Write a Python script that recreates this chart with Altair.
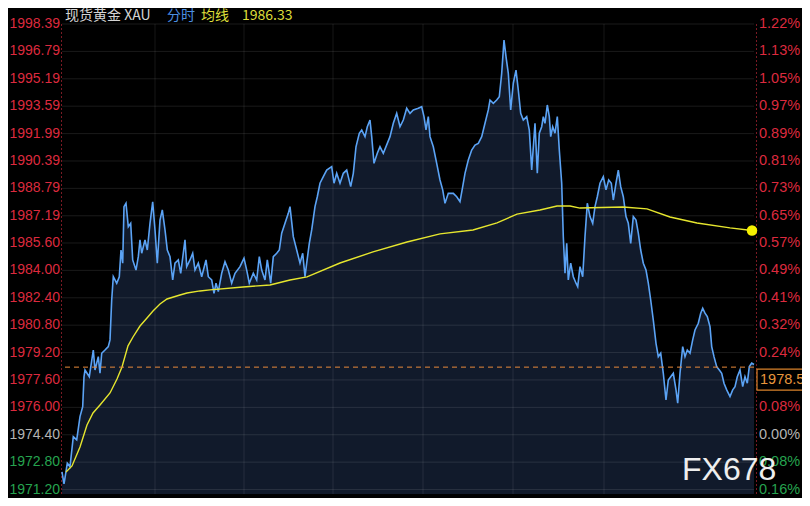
import altair as alt
import pandas as pd

# ---------------- data ----------------
price_t = [0, 2, 3, 5.3, 8, 11.3, 14.7, 18, 20.7, 22, 23, 27.3, 31.3, 33, 36.3, 38, 39.7, 43, 46.3, 48,
           49.7, 51.3, 54.7, 57.3, 59, 60.7, 62, 64, 66.3, 68.7, 70.7, 74, 76.3, 78, 79.7, 83, 85.3, 88, 90.7, 93,
           95.3, 98, 100.3, 103, 105.3, 108, 110.7, 113, 116.3, 118.7, 123, 124.7, 128, 130.7, 133, 136.3, 139.7, 144, 146.3, 149.7,
           152, 154, 156.3, 159.7, 163, 166.3, 169.7, 173, 178, 182, 184.7, 187.3, 191.3, 194.7, 197.3, 199.7, 203, 205.3, 208.7, 211.3,
           214.7, 217.3, 219.7, 223, 226.3, 228, 231.3, 234.7, 238, 240.7, 243, 244.7, 247.3, 249.7, 253, 255.3, 258, 261.3, 264.7, 269.7,
           272, 274.7, 278, 281.3, 284.7, 288.7, 291.3, 294, 297.3, 299.7, 303, 305.3, 308, 309.7, 312, 315.3, 318, 321.3, 325.3, 328,
           331.3, 334.7, 338, 341.3, 344.7, 348, 351.3, 356.3, 359.7, 362, 364, 366.3, 368, 371.3, 374.7, 378, 380.7, 383, 386.3, 391.3,
           394.7, 398, 400.7, 403, 406.3, 409.7, 413, 416.3, 419.7, 423, 426.3, 428, 431.3, 434.7, 437.3, 439.7, 442, 444, 446.3, 448.7,
           451.3, 454, 456.3, 458.7, 461.3, 464.7, 467.3, 469.7, 473, 475.3, 477.3, 479.7, 481.3, 483, 485.3, 487.3, 488.7, 490.7, 493, 495.3,
           497.3, 499.7, 501.3, 503, 504.7, 506.3, 508.7, 511.3, 514, 515.7, 518, 520.7, 523, 525.3, 528, 530.7, 533, 535.3, 538, 541.3,
           544, 546.7, 549.3, 551.3, 554, 556.3, 558.7, 561.3, 564, 566.3, 568.7, 571.3, 574, 576.3, 578.7, 581.3, 584, 586.3, 588.7, 591.3,
           594, 596.3, 598.7, 601.3, 604, 606.3, 608.7, 611.3, 614, 615.7, 618, 620.7, 623, 625.3, 628, 630.7, 633, 636.3, 638.7, 640.7,
           643, 645.3, 648, 649.7, 652, 654.7, 657.3, 659.7, 662, 664.7, 668, 670.7, 673, 675.3, 678, 680.7, 683, 685.3, 687.3, 689.7, 692]
price = [1972.23, 1971.53, 1971.88, 1972.74, 1972.54, 1974.29, 1974.10, 1975.46, 1976.04, 1977.79, 1978.18, 1977.79, 1979.35, 1978.18, 1978.96, 1977.99, 1979.16, 1979.35, 1979.55, 1979.94,
         1982.27, 1983.63, 1983.25, 1983.63, 1985.19, 1984.42, 1987.72, 1987.92, 1986.55, 1986.75, 1984.61, 1984.02, 1984.80, 1985.78, 1985.00, 1985.78, 1985.19, 1986.75, 1988.01, 1986.36,
         1984.42, 1986.94, 1987.53, 1986.36, 1985.19, 1984.80, 1983.44, 1984.42, 1984.61, 1983.83, 1985.78, 1984.22, 1984.61, 1985.00, 1984.02, 1984.42, 1983.63, 1984.61, 1983.63, 1983.44,
         1982.66, 1983.25, 1982.76, 1983.83, 1984.51, 1984.02, 1983.25, 1983.83, 1984.22, 1984.71, 1984.02, 1983.25, 1983.83, 1983.44, 1984.80, 1984.02, 1983.44, 1984.61, 1983.25, 1984.80,
         1985.00, 1985.19, 1986.17, 1986.75, 1987.33, 1987.72, 1985.97, 1985.19, 1984.42, 1985.00, 1983.63, 1984.42, 1985.58, 1986.36, 1987.72, 1988.30, 1989.09, 1989.47, 1989.86, 1990.06,
         1989.09, 1989.67, 1989.09, 1989.67, 1989.86, 1988.89, 1989.67, 1991.22, 1992.01, 1992.20, 1991.81, 1992.39, 1992.78, 1991.81, 1990.25, 1990.84, 1991.22, 1990.84, 1991.42, 1991.81,
         1992.59, 1993.17, 1992.39, 1992.78, 1993.47, 1993.17, 1993.37, 1993.47, 1993.56, 1992.98, 1992.20, 1992.98, 1991.81, 1991.22, 1990.25, 1989.28, 1988.70, 1987.92, 1988.50, 1988.50,
         1988.30, 1988.01, 1988.89, 1989.67, 1990.45, 1991.03, 1991.32, 1991.42, 1991.81, 1992.59, 1993.37, 1993.95, 1993.76, 1993.95, 1994.14, 1995.51, 1997.45, 1996.48, 1995.51, 1993.37,
         1994.93, 1995.70, 1994.53, 1993.17, 1992.78, 1992.98, 1992.20, 1989.86, 1992.59, 1989.67, 1992.01, 1992.39, 1992.98, 1992.59, 1993.66, 1992.98, 1991.81, 1992.39, 1992.01, 1992.98,
         1991.03, 1989.09, 1985.97, 1983.83, 1985.58, 1983.44, 1984.42, 1983.63, 1983.25, 1983.05, 1984.22, 1983.63, 1985.97, 1987.92, 1987.14, 1986.75, 1987.72, 1988.30, 1989.09, 1989.47,
         1988.70, 1989.28, 1989.09, 1988.11, 1989.09, 1989.86, 1988.89, 1988.30, 1987.14, 1986.75, 1985.58, 1987.14, 1986.94, 1986.17, 1985.19, 1984.42, 1984.02, 1983.25, 1982.27, 1981.10,
         1979.74, 1978.96, 1979.16, 1977.99, 1976.43, 1977.60, 1977.79, 1977.99, 1977.02, 1976.24, 1977.99, 1979.55, 1978.96, 1979.35, 1979.16, 1979.94, 1980.52, 1980.91, 1981.50, 1981.79,
         1981.50, 1981.30, 1980.71, 1979.55, 1978.96, 1978.38, 1978.18, 1977.99, 1977.41, 1977.02, 1976.63, 1977.02, 1977.21, 1977.79, 1978.18, 1977.21, 1977.79, 1977.41, 1978.38, 1978.58, 1978.50]

avg_t = [4, 10, 18, 25, 31, 38, 48, 55, 60, 66, 71, 78, 85, 91, 98, 105, 118, 125, 138, 148,
         181, 208, 228, 245, 278, 311, 345, 378, 411, 435, 455, 478, 495, 508, 518, 561, 585, 608, 635, 668, 690]
avg = [1972.23, 1972.58, 1973.69, 1974.97, 1975.67, 1976.14, 1976.84, 1977.66, 1978.36, 1979.59, 1980.11, 1980.75, 1981.22, 1981.63, 1982.04, 1982.33, 1982.56, 1982.68, 1982.80, 1982.86,
       1983.03, 1983.15, 1983.44, 1983.62, 1984.43, 1985.08, 1985.66, 1986.13, 1986.36, 1986.77, 1987.29, 1987.53, 1987.76, 1987.76, 1987.64, 1987.70, 1987.59, 1987.12, 1986.77, 1986.48, 1986.33]

tick_values = [1998.39, 1996.79, 1995.19, 1993.59, 1991.99, 1990.39, 1988.79, 1987.19, 1985.60,
               1984.00, 1982.40, 1980.80, 1979.20, 1977.60, 1976.00, 1974.40, 1972.80, 1971.20]
tick_labels = ["1998.39", "1996.79", "1995.19", "1993.59", "1991.99", "1990.39", "1988.79", "1987.19", "1985.60",
               "1984.00", "1982.40", "1980.80", "1979.20", "1977.60", "1976.00", "1974.40", "1972.80", "1971.20"]
# right-hand labels; the one at 1977.60 sits behind the last-price box in the reference
pct_labels = ["1.22%", "1.13%", "1.05%", "0.97%", "0.89%", "0.81%", "0.73%", "0.65%", "0.57%",
              "0.49%", "0.41%", "0.32%", "0.24%", "", "0.08%", "0.00%", "0.08%", "0.16%"]
base_price = 1974.40
vgrid_t = [93, 182, 271, 361, 451, 542]
dash_level = 1978.35
last_label = ["1978.50"]
avg_last = 1986.33

title_name = "现货黄金 XAU"
title_mode = "分时"
title_avg = "均线"
title_avg_val = "1986.33"
watermark = "FX678"

# ---------------- layout ----------------
W, H = 692, 470
X_DOMAIN = [0, 692]
Y_DOMAIN = [1970.94, 1998.39]
RED, GRAY, GREEN = "#dc2a3e", "#b4b4b4", "#26a34f"

price_df = pd.DataFrame({"t": price_t, "v": price})
avg_df = pd.DataFrame({"t": avg_t, "v": avg})
ticks_df = pd.DataFrame({
    "v": tick_values, "label": tick_labels, "pct": pct_labels,
    "color": [RED if v > base_price + 0.001 else (GRAY if abs(v - base_price) < 0.001 else GREEN) for v in tick_values],
})
pct_df = ticks_df[ticks_df["pct"] != ""]
vgrid_df = pd.DataFrame({"t": vgrid_t})
dash_df = pd.DataFrame({"v": [dash_level], "label": last_label})
dot_df = pd.DataFrame({"t": [avg_t[-1]], "v": [avg_last]})
one = pd.DataFrame({"a": [0]})

xs = alt.Scale(domain=X_DOMAIN, nice=False, zero=False)
ys = alt.Scale(domain=Y_DOMAIN, nice=False, zero=False)
X = alt.X("t:Q", scale=xs, axis=None)
Y = alt.Y("v:Q", scale=ys, axis=None)

area = alt.Chart(price_df).mark_area(color="#111a2b", opacity=1).encode(
    x=X, y=Y, y2=alt.datum(Y_DOMAIN[0]))
hgrid = alt.Chart(ticks_df).mark_rule(color="#ffffff", opacity=0.10, strokeWidth=1).encode(y=Y)
vgrid = alt.Chart(vgrid_df).mark_rule(color="#ffffff", opacity=0.09, strokeWidth=1).encode(x=X)
left_axis = alt.Chart(one).mark_rule(color="#7a1a24", strokeDash=[2, 2], strokeWidth=1).encode(
    x=alt.value(-0.5), y=alt.value(0), y2=alt.value(H))
right_axis = alt.Chart(one).mark_rule(color="#7a1a24", strokeDash=[2, 2], strokeWidth=1).encode(
    x=alt.value(694.5), y=alt.value(0), y2=alt.value(H))
pline = alt.Chart(price_df).mark_line(color="#5ba3f5", strokeWidth=1.6).encode(x=X, y=Y)
aline = alt.Chart(avg_df).mark_line(color="#e6e62e", strokeWidth=1.4).encode(x=X, y=Y)
dash = alt.Chart(dash_df).mark_rule(color="#e8893a", strokeDash=[5, 4], strokeWidth=1).encode(y=Y)
dot = alt.Chart(dot_df).mark_circle(color="#f5ef00", size=110, opacity=1).encode(x=X, y=Y)

left_labels = alt.Chart(ticks_df).mark_text(
    align="right", baseline="middle", fontSize=14, font="Liberation Sans").encode(
    x=alt.value(-2), y=Y, text="label:N", color=alt.Color("color:N", scale=None))
right_labels = alt.Chart(pct_df).mark_text(
    align="left", baseline="middle", fontSize=14.5, font="Liberation Sans").encode(
    x=alt.value(697), y=Y, text="pct:N", color=alt.Color("color:N", scale=None))

box = alt.Chart(dash_df).mark_rect(
    fill="#000000", stroke="#d9822b", strokeWidth=1.2, yOffset=2, y2Offset=23).encode(
    x=alt.value(695), x2=alt.value(760), y=Y, y2=alt.Y2("v:Q"))
box_text = alt.Chart(dash_df).mark_text(
    align="left", baseline="middle", dy=12.5, fontSize=14.5, font="Liberation Sans", color="#e8963c").encode(
    x=alt.value(698), y=Y, text="label:N")

CJK = "Noto Sans CJK SC"
TY = -8
t1 = alt.Chart(one).mark_text(align="left", baseline="middle", fontSize=14, font=CJK, color="#d4d4d4").encode(
    x=alt.value(3), y=alt.value(TY), text=alt.value(title_name))
t2 = alt.Chart(one).mark_text(align="left", baseline="middle", fontSize=14, font=CJK, color="#4b8fe0").encode(
    x=alt.value(105), y=alt.value(TY), text=alt.value(title_mode))
t3 = alt.Chart(one).mark_text(align="left", baseline="middle", fontSize=14, font=CJK, color="#dede3a").encode(
    x=alt.value(139), y=alt.value(TY), text=alt.value(title_avg))
t4 = alt.Chart(one).mark_text(align="left", baseline="middle", fontSize=14, font=CJK, color="#dede3a").encode(
    x=alt.value(180), y=alt.value(TY), text=alt.value(title_avg_val))
wm = alt.Chart(one).mark_text(align="left", baseline="alphabetic", fontSize=32, font="Liberation Sans",
                              color="#eeeeee").encode(
    x=alt.value(620), y=alt.value(456), text=alt.value(watermark))

chart = alt.layer(
    area, hgrid, vgrid, left_axis, right_axis, pline, aline, dash, dot,
    left_labels, right_labels, box, box_text, t1, t2, t3, t4, wm
).properties(
    width=W, height=H,
    padding={"left": 54, "top": 16, "right": 48, "bottom": 4},
    autosize=alt.AutoSizeParams(type="none"),
    background="#000000",
).configure_view(stroke=None)

chart.save("out.html", embed_options={"renderer": "svg", "actions": False})
